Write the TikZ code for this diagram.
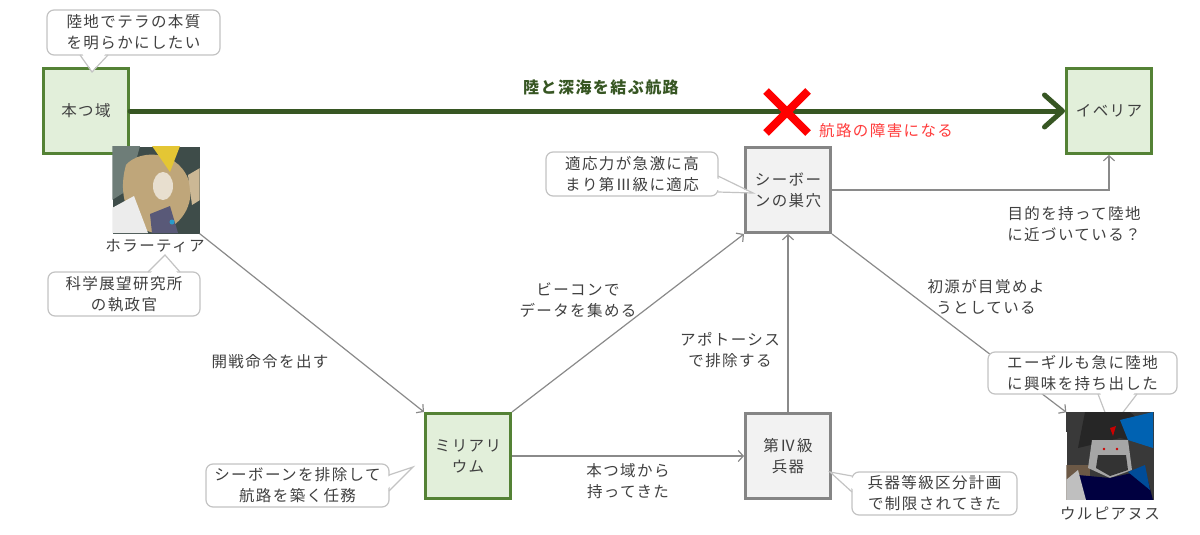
\documentclass[tikz,border=0pt]{standalone}
\usepackage{fontspec}
\setmainfont{Noto Sans CJK JP}[LetterSpace=9]
\usetikzlibrary{arrows.meta,calc}
\definecolor{gfill}{HTML}{E2EFDA}
\definecolor{gborder}{HTML}{548235}
\definecolor{bfill}{HTML}{F2F2F2}
\definecolor{bborder}{HTML}{858585}
\definecolor{bub}{HTML}{C3C3C3}
\definecolor{txt}{HTML}{404040}
\definecolor{connc}{HTML}{8A8A8A}
\definecolor{dkgreen}{HTML}{375623}
\definecolor{xred}{HTML}{FF0000}
\definecolor{redtxt}{HTML}{FF3B3B}
\definecolor{hbg}{HTML}{3E4C49}
\definecolor{hbg2}{HTML}{6E7D78}
\definecolor{hair}{HTML}{BFA67A}
\definecolor{face}{HTML}{E8DFCF}
\tikzset{
  base/.style={font=\fontsize{15.5}{21}\selectfont, text=txt},
  greenbox/.style={base, draw=gborder, fill=gfill, line width=3pt, minimum size=85pt, inner sep=0pt, align=center},
  graybox/.style={base, draw=bborder, fill=bfill, line width=3pt, minimum size=85pt, inner sep=0pt, align=center},
  bubble/.style={base, draw=bub, fill=white, rounded corners=7pt, line width=1.2pt, inner sep=0pt, align=center},
  lbl/.style={base, align=center, inner sep=0pt},
  conn/.style={draw=connc, line width=1.2pt, -{Straight Barb[length=5pt,width=11pt]}},
  ptr/.style={draw=bub, line width=1.2pt},
  portrait/.style={minimum size=87pt, inner sep=0pt},
}
\begin{document}
\begin{tikzpicture}[x=1pt,y=-1pt]
\useasboundingbox (0,0) rectangle (1200,535);

% main boxes
\node[greenbox] (hontsu) at (86,111) {本つ域};
\node[greenbox] (iberia) at (1109,111) {イベリア};
\node[graybox] (nest) at (788,190) {シーボー\\ンの巣穴};
\node[greenbox] (mil) at (468,456) {ミリアリ\\ウム};
\node[graybox] (weap) at (788,456) {第Ⅳ級\\兵器};

% portraits
\node[portrait, fill=hbg] (hor) at (156,190) {};
\begin{scope}
  \clip (hor.north west) rectangle (hor.south east);
  \fill[hbg2] (112,146) -- (140,146) -- (128,190) -- (112,200) -- cycle;
  \fill[hair] (126,165) .. controls (140,148) and (182,150) .. (190,185) .. controls (194,210) and (176,230) .. (155,233) .. controls (132,230) and (116,200) .. (126,165);
  \fill[face] (163,186) ellipse (10 and 14);
  \fill[white!85!gray] (112,208) -- (134,196) -- (148,233) -- (112,233) -- cycle;
  \fill[black!60!blue!30!gray] (150,214) -- (170,206) -- (178,233) -- (152,233) -- cycle;
  \fill[cyan!60!teal] (172,222) circle (2.5);
  \fill[yellow!55!brown] (152,146) -- (180,146) -- (170,172) -- cycle;
  \fill[hair!80!white] (188,175) -- (200,168) -- (200,200) -- (192,205) -- cycle;
\end{scope}
\node[lbl] (horl) at (155,246) {ホラーティア};

\node[portrait, fill=black!55!gray] (ulp) at (1110,456) {};
\begin{scope}
  \clip (ulp.north west) rectangle (ulp.south east);
  \fill[black!50!brown!60!gray] (1066,465) rectangle (1090,500);
  \fill[black!85] (1085,412) -- (1130,412) -- (1150,430) -- (1153,445) -- (1120,438) -- (1078,448) -- cycle;
  \fill[blue!45!cyan!70!black] (1120,420) -- (1153,412) -- (1153,448) -- (1128,440) -- cycle;
  \fill[red!80!black] (1110,428) -- (1116,426) -- (1113,436) -- cycle;
  \fill[gray!70!white] (1092,440) -- (1128,440) -- (1132,470) -- (1110,478) -- (1088,468) -- cycle;
  \fill[black!80] (1098,455) -- (1126,455) -- (1128,470) -- (1110,476) -- (1096,468) -- cycle;
  \fill[red!80!black] (1104,449) circle (1.3) (1117,449) circle (1.3);
  \fill[black!75!blue] (1078,475) -- (1110,478) -- (1145,470) -- (1153,500) -- (1070,500) -- cycle;
  \fill[blue!50!cyan!60!black] (1128,472) -- (1145,465) -- (1150,490) -- cycle;
  \fill[gray!50] (1066,480) -- (1078,470) -- (1086,500) -- (1066,500) -- cycle;
\end{scope}
\node[lbl] (ulpl) at (1110,514) {ウルピアヌス};

% thick route arrow
\draw[line width=5pt, draw=dkgreen, line cap=round, -{Straight Barb[length=18pt,width=32pt,line cap=round,line join=round]}] (hontsu) -- (iberia);
\node[lbl, text=dkgreen, font=\fontsize{16}{21}\selectfont\bfseries] (route) at (601,87) {陸と深海を結ぶ航路};

% red cross
\coordinate (xc) at (787,112);
\draw[xred, line width=8pt] ($(xc)+(-21,-21)$) -- ($(xc)+(21,21)$);
\draw[xred, line width=8pt] ($(xc)+(-21,21)$) -- ($(xc)+(21,-21)$);
\node[lbl, text=redtxt, anchor=west] (obst) at (819,131) {航路の障害になる};

% connectors
\draw[conn] (nest.east) -| (iberia.south);
\node[lbl] (l1) at (1074,224) {目的を持って陸地\\に近づいている？};
\draw[conn] (nest.south east) -- (ulp.north west);
\node[lbl] (l2) at (986,297) {初源が目覚めよ\\うとしている};
\draw[conn] (hor.south east) -- (mil.north west);
\node[lbl] (l3) at (270,362) {開戦命令を出す};
\draw[conn] (mil.north east) -- (nest.south west);
\node[lbl] (l4) at (578,300) {ビーコンで\\データを集める};
\draw[conn] (mil.east) -- (weap.west);
\node[lbl] (l5) at (628,481) {本つ域から\\持ってきた};
\draw[conn] (weap.north) -- (nest.south);
\node[lbl] (l6) at (730,350) {アポトーシス\\で排除する};

% bubbles
\node[bubble, minimum width=173pt, minimum height=45pt] (b1) at (133.5,32.5) {陸地でテラの本質\\を明らかにしたい};
\fill[white] (82,53) -- (92,72) -- (106,53) -- cycle;
\draw[ptr] (80,55) -- (92,72) -- (108,55);

\node[bubble, minimum width=152pt, minimum height=44pt] (b2) at (124,294) {科学展望研究所\\の執政官};
\fill[white] (150,274) -- (165,255) -- (178,274) -- cycle;
\draw[ptr] (148,272) -- (165,255) -- (180,272);

\node[bubble, minimum width=172pt, minimum height=44pt] (b3) at (632,174) {適応力が急激に高\\まり第Ⅲ級に適応};
\fill[white] (716,178) -- (753,193) -- (716,190) -- cycle;
\draw[ptr] (718,176) -- (753,193) -- (718,192);

\node[bubble, minimum width=183pt, minimum height=43pt] (b4) at (297.5,485.5) {シーボーンを排除して\\航路を築く任務};
\fill[white] (387,477) -- (413,467) -- (387,489) -- cycle;
\draw[ptr] (389,475) -- (413,467) -- (389,491);

\node[bubble, minimum width=165pt, minimum height=43pt] (b5) at (934.5,493.5) {兵器等級区分計画\\で制限されてきた};
\fill[white] (854,478) -- (830,472) -- (854,490) -- cycle;
\draw[ptr] (852,476) -- (830,472) -- (852,492);

\node[bubble, minimum width=189pt, minimum height=42pt] (b6) at (1082.5,373) {エーギルも急に陸地\\に興味を持ち出した};
\fill[white] (1100,392) -- (1111,428) -- (1135,392) -- cycle;
\draw[ptr] (1098,394) -- (1111,428) -- (1137,394);
% redraw portrait top over pointer tip
\begin{scope}
  \clip (1066,412) rectangle (1154,432);
  \fill[black!55!gray] (1066,412) rectangle (1154,432);
  \fill[black!85] (1085,412) -- (1130,412) -- (1150,430) -- (1153,445) -- (1120,438) -- (1078,448) -- cycle;
  \fill[blue!45!cyan!70!black] (1120,420) -- (1153,412) -- (1153,448) -- (1128,440) -- cycle;
  \fill[red!80!black] (1110,428) -- (1116,426) -- (1113,436) -- cycle;
\end{scope}
\end{tikzpicture}
\end{document}
